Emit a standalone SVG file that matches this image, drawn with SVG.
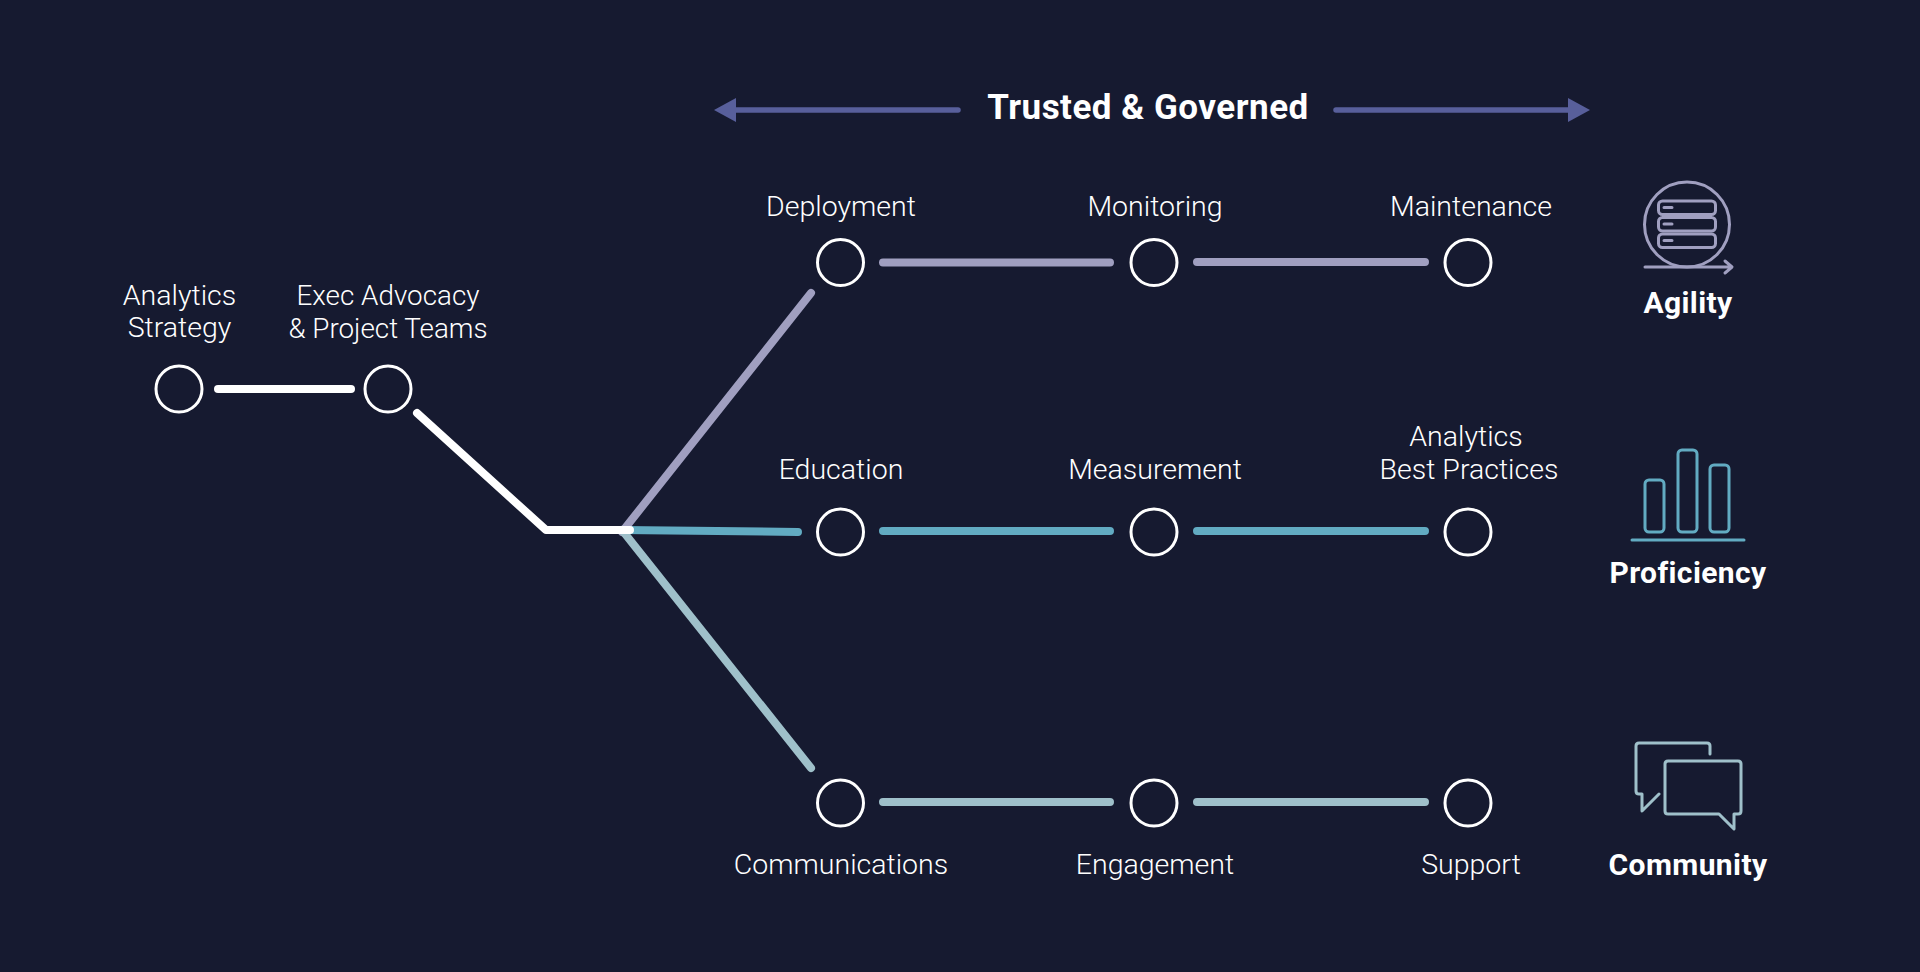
<svg xmlns="http://www.w3.org/2000/svg" width="1920" height="972" viewBox="0 0 1920 972">
<style>
.n{fill:none;stroke:#fff;stroke-width:3}
.t{font-family:Roboto,"Liberation Sans",sans-serif;font-weight:300;font-size:28.500px;fill:#fff;text-anchor:middle}
.x{font-size:27.800px}
.b{font-family:Roboto,"Liberation Sans",sans-serif;font-weight:700;font-size:30px;letter-spacing:.4px;fill:#fff;text-anchor:middle}
.l{fill:none;stroke-width:8;stroke-linecap:round;stroke-linejoin:round}
.p{stroke:#a09fc0}.c{stroke:#62abc2}.g{stroke:#9fc0ca}.w{stroke:#fff}
.i{fill:none;stroke-width:3;stroke-linecap:round;stroke-linejoin:round}
</style>
<rect width="1920" height="972" fill="#161a30"/>
<g id="connectors">
<line class="l p" x1="622" y1="532" x2="811" y2="293"/>
<line class="l g" x1="622" y1="530" x2="811" y2="768"/>
<line class="l c" x1="622" y1="530" x2="798" y2="532"/>
<path class="l w" d="M218 389H351"/>
<path class="l w" d="M417 413L546 530H630"/>
<path class="l p" d="M883 262.500H1110M1197 262H1425"/>
<path class="l c" d="M883 531H1110M1197 531H1425"/>
<path class="l g" d="M883 802H1110M1197 802H1425"/>
<path d="M958 110H736" fill="none" stroke="#585f9b" stroke-width="5.500" stroke-linecap="round"/>
<path d="M714 110L736 98V122Z" fill="#585f9b"/>
<path d="M1336 110H1568" fill="none" stroke="#585f9b" stroke-width="5.500" stroke-linecap="round"/>
<path d="M1590 110L1568 98V122Z" fill="#585f9b"/>
</g>
<text id="title" x="1148" y="119" font-family="Roboto,'Liberation Sans',sans-serif" font-weight="700" font-size="35" letter-spacing=".5" fill="#fff" text-anchor="middle">Trusted &amp; Governed</text>
<g id="n-strategy"><circle class="n" cx="179" cy="389" r="23"/><text class="t" x="179.500" y="305">Analytics</text><text class="t" x="179.500" y="337">Strategy</text></g>
<g id="n-exec"><circle class="n" cx="388" cy="389" r="23"/><text class="t x" x="388" y="305">Exec Advocacy</text><text class="t x" x="388" y="338">&amp; Project Teams</text></g>
<g id="n-deployment"><circle class="n" cx="840.500" cy="262.500" r="23"/><text class="t" x="841" y="216">Deployment</text></g>
<g id="n-monitoring"><circle class="n" cx="1154" cy="262.500" r="23"/><text class="t" x="1155" y="216">Monitoring</text></g>
<g id="n-maintenance"><circle class="n" cx="1468" cy="262.500" r="23"/><text class="t" x="1471" y="216">Maintenance</text></g>
<g id="n-education"><circle class="n" cx="840.500" cy="532" r="23"/><text class="t" x="841" y="479">Education</text></g>
<g id="n-measurement"><circle class="n" cx="1154" cy="532" r="23"/><text class="t" x="1155" y="479">Measurement</text></g>
<g id="n-bestpractices"><circle class="n" cx="1468" cy="532" r="23"/><text class="t" x="1466" y="446">Analytics</text><text class="t" x="1469" y="479">Best Practices</text></g>
<g id="n-communications"><circle class="n" cx="840.500" cy="803" r="23"/><text class="t" x="841" y="874">Communications</text></g>
<g id="n-engagement"><circle class="n" cx="1154" cy="803" r="23"/><text class="t" x="1155" y="874">Engagement</text></g>
<g id="n-support"><circle class="n" cx="1468" cy="803" r="23"/><text class="t" x="1471" y="874">Support</text></g>
<g id="agility">
<g class="i" stroke="#a09fc0">
<circle cx="1687" cy="224.500" r="42.500"/>
<path d="M1645 267H1731M1725 261L1732 267L1725 273"/>
<rect x="1658.500" y="201" width="57" height="13.500" rx="4"/><rect x="1658.500" y="217.500" width="57" height="13.500" rx="4"/><rect x="1658.500" y="234" width="57" height="13.500" rx="4"/>
<path d="M1664 207.500H1672M1664 224H1672M1664 240.500H1672"/>
</g>
<text class="b" x="1688" y="313">Agility</text></g>
<g id="proficiency">
<g class="i" stroke="#62abc2">
<rect x="1645" y="480" width="19" height="52" rx="4"/><rect x="1678" y="450" width="19" height="82" rx="4"/><rect x="1710" y="465" width="19" height="67" rx="4"/>
<path d="M1632 540H1744"/>
</g>
<text class="b" x="1688" y="583">Proficiency</text></g>
<g id="community">
<g class="i" stroke="#9fc0ca">
<path d="M1710 754V746Q1710 743 1707 743H1639Q1636 743 1636 746V791Q1636 794 1639 794H1642V811L1659 794"/>
<path d="M1668 761Q1665 761 1665 764V811Q1665 814 1668 814H1719L1734 829V814H1738Q1741 814 1741 811V764Q1741 761 1738 761Z"/>
</g>
<text class="b" x="1688" y="875">Community</text></g>
</svg>
